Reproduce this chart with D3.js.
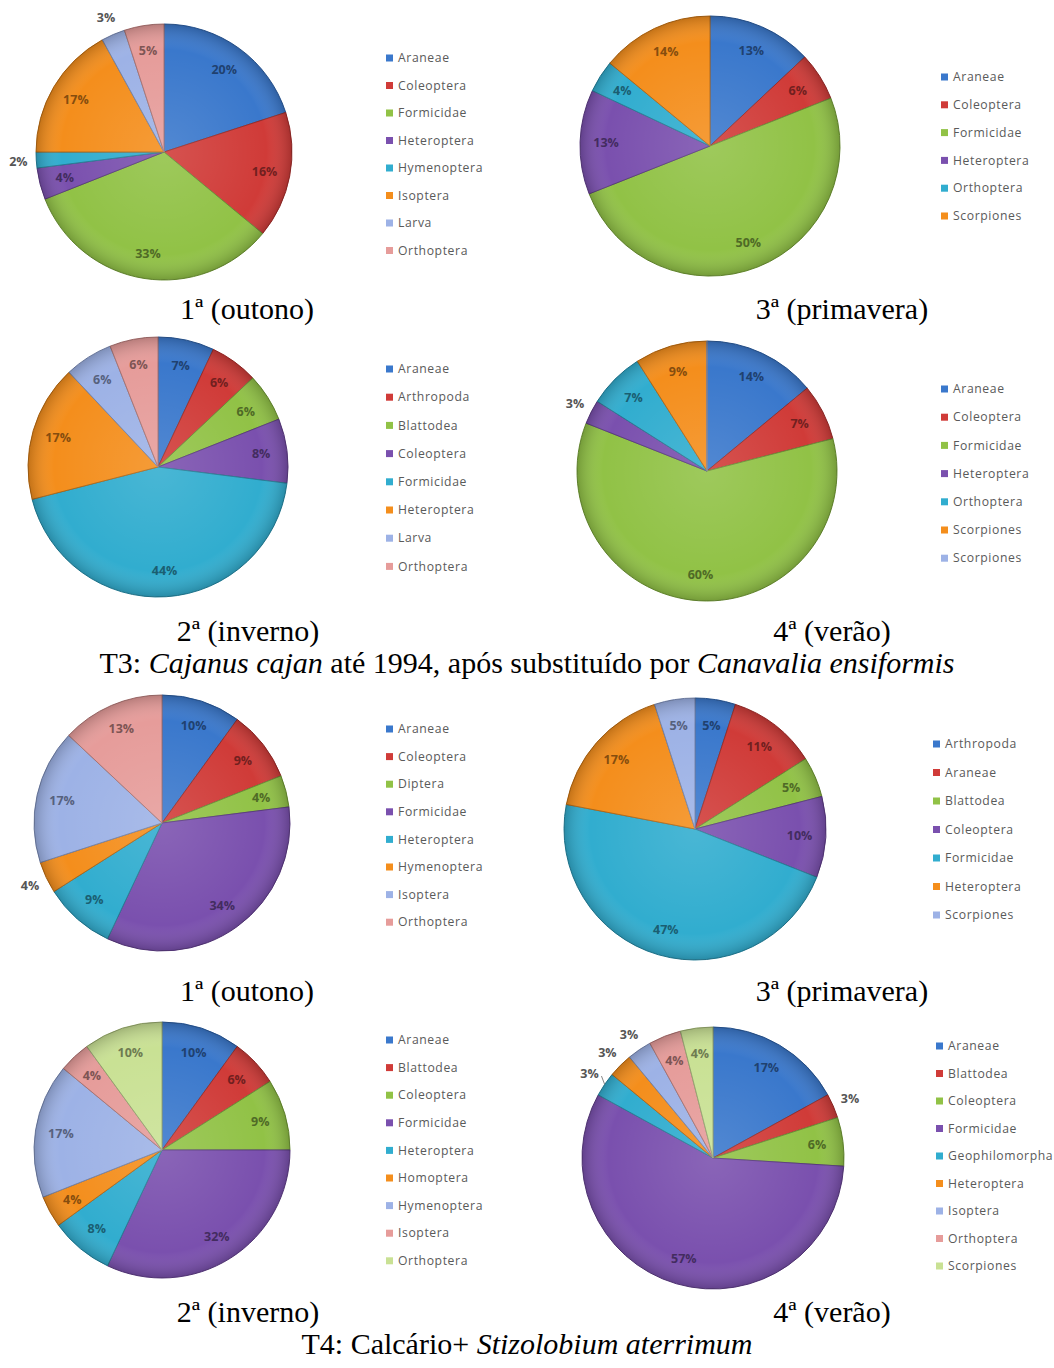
<!DOCTYPE html>
<html>
<head>
<meta charset="utf-8">
<title>Grupos de artrópodes por estação</title>
<script src="https://d3js.org/d3.v7.min.js"></script>
<style>
  body { margin: 0; background: #fff; }
  .legend text { font-family: "Open Sans", sans-serif; font-size: 12.2px; letter-spacing: 0.6px; fill: #5a5a5a; }
  .pct { font-family: "Open Sans", sans-serif; font-size: 12.5px; font-weight: bold; }
  .cap { font-family: "Liberation Serif", "Times New Roman", serif; font-size: 30px; fill: #000; }
</style>
</head>
<body>
<svg width="1054" height="1368"></svg>
<script>
// T3 - Cajanus cajan / Canavalia ensiformis
var catsT3a = ["Araneae", "Coleoptera", "Formicidae", "Heteroptera", "Hymenoptera", "Isoptera", "Larva", "Orthoptera"];
var valsT3a = [20, 16, 33, 4, 2, 17, 3, 5];
var catsT3c = ["Araneae", "Coleoptera", "Formicidae", "Heteroptera", "Orthoptera", "Scorpiones"];
var valsT3c = [13, 6, 50, 13, 4, 14];
var catsT3b = ["Araneae", "Arthropoda", "Blattodea", "Coleoptera", "Formicidae", "Heteroptera", "Larva", "Orthoptera"];
var valsT3b = [7, 6, 6, 8, 44, 17, 6, 6];
var catsT3d = ["Araneae", "Coleoptera", "Formicidae", "Heteroptera", "Orthoptera", "Scorpiones", "Scorpiones"];
var valsT3d = [14, 7, 60, 3, 7, 9, 0];

// T4 - Calcário + Stizolobium aterrimum
var catsT4a = ["Araneae", "Coleoptera", "Diptera", "Formicidae", "Heteroptera", "Hymenoptera", "Isoptera", "Orthoptera"];
var valsT4a = [10, 9, 4, 34, 9, 4, 17, 13];
var catsT4c = ["Arthropoda", "Araneae", "Blattodea", "Coleoptera", "Formicidae", "Heteroptera", "Scorpiones"];
var valsT4c = [5, 11, 5, 10, 47, 17, 5];
var catsT4b = ["Araneae", "Blattodea", "Coleoptera", "Formicidae", "Heteroptera", "Homoptera", "Hymenoptera", "Isoptera", "Orthoptera"];
var valsT4b = [10, 6, 9, 32, 8, 4, 17, 4, 10];
var catsT4d = ["Araneae", "Blattodea", "Coleoptera", "Formicidae", "Geophilomorpha", "Heteroptera", "Isoptera", "Orthoptera", "Scorpiones"];
var valsT4d = [17, 3, 6, 57, 3, 3, 3, 4, 4];

var seasons = ["1ª (outono)", "3ª (primavera)", "2ª (inverno)", "4ª (verão)"];

// excel-like palette, assigned by legend position
var palette = ["#3a78cc", "#d03b38", "#91c246", "#7a50ae", "#31adcf", "#f48e1c", "#9db2e6", "#e69c9a", "#c9e194"];

var svg = d3.select("svg");

var panels = [
  {cats: catsT3a, vals: valsT3a, cx: 164, cy: 152, r: 128, lx: 386, ly: 58, step: 27.5, out: [4, 6]},
  {cats: catsT3c, vals: valsT3c, cx: 710, cy: 146, r: 130, lx: 941, ly: 77, step: 27.8, out: []},
  {cats: catsT3b, vals: valsT3b, cx: 158, cy: 467, r: 130, lx: 386, ly: 369, step: 28.2, out: []},
  {cats: catsT3d, vals: valsT3d, cx: 707, cy: 471, r: 130, lx: 941, ly: 389, step: 28.2, out: [3]},
  {cats: catsT4a, vals: valsT4a, cx: 162, cy: 823, r: 128, lx: 386, ly: 729, step: 27.6, out: [5]},
  {cats: catsT4c, vals: valsT4c, cx: 695, cy: 829, r: 131, lx: 933, ly: 744, step: 28.5, out: []},
  {cats: catsT4b, vals: valsT4b, cx: 162, cy: 1150, r: 128, lx: 386, ly: 1040, step: 27.6, out: []},
  {cats: catsT4d, vals: valsT4d, cx: 713, cy: 1158, r: 131, lx: 936, ly: 1046, step: 27.5, out: [1, 4, 5, 6], lead: [4]}
];

var defs = svg.append("defs");
var rim = defs.append("radialGradient").attr("id", "rim");
rim.append("stop").attr("offset", "0%").attr("stop-color", "#fff").attr("stop-opacity", 0.12);
rim.append("stop").attr("offset", "80%").attr("stop-color", "#fff").attr("stop-opacity", 0);
rim.append("stop").attr("offset", "100%").attr("stop-color", "#000").attr("stop-opacity", 0.2);

var pie = d3.pie().sort(null).value(function(d) { return d; });

panels.forEach(function(p) {
  var g = svg.append("g").attr("transform", "translate(" + p.cx + "," + p.cy + ")");
  var arc = d3.arc().innerRadius(0).outerRadius(p.r);
  var arcs = pie(p.vals);

  g.selectAll("path.slice")
    .data(arcs)
    .enter().append("path")
      .attr("class", "slice")
      .attr("d", arc)
      .attr("fill", function(d, i) { return palette[i]; })
      .attr("stroke", function(d, i) { return d3.color(palette[i]).darker(0.9); })
      .attr("stroke-width", 1);

  g.append("circle").attr("r", p.r).attr("fill", "url(#rim)");

  var inArc = d3.arc().innerRadius(p.r * 0.8).outerRadius(p.r * 0.8);
  var outArc = d3.arc().innerRadius(p.r * 1.14).outerRadius(p.r * 1.14);

  arcs.forEach(function(d, i) {
    if (d.data <= 0) return;
    var isOut = p.out.indexOf(i) >= 0;
    var c = (isOut ? outArc : inArc).centroid(d);
    if (p.lead && p.lead.indexOf(i) >= 0) {
      var e = d3.arc().innerRadius(p.r * 1.0).outerRadius(p.r * 1.0).centroid(d);
      g.append("line")
        .attr("x1", c[0] + 12).attr("y1", c[1] + 2)
        .attr("x2", e[0]).attr("y2", e[1])
        .attr("stroke", "#666").attr("stroke-width", 0.8);
    }
    g.append("text")
      .attr("class", "pct")
      .attr("x", c[0]).attr("y", c[1])
      .attr("dy", "0.35em")
      .attr("text-anchor", "middle")
      .attr("fill", isOut ? "#555" : d3.color(palette[i]).darker(1.7))
      .text(d.data + "%");
  });

  var lg = svg.append("g").attr("class", "legend");
  var items = lg.selectAll("g")
    .data(p.cats)
    .enter().append("g")
      .attr("transform", function(d, i) { return "translate(" + p.lx + "," + (p.ly + i * p.step) + ")"; });
  items.append("rect")
    .attr("x", 0).attr("y", -3.5)
    .attr("width", 7).attr("height", 7)
    .attr("fill", function(d, i) { return palette[i]; });
  items.append("text")
    .attr("x", 12).attr("dy", "0.35em")
    .text(function(d) { return d; });
});

// captions
var capPos = [[247, 319], [842, 319], [248, 641], [832, 641], [247, 1001], [842, 1001], [248, 1322], [832, 1322]];
capPos.forEach(function(c, i) {
  svg.append("text").attr("class", "cap")
    .attr("x", c[0]).attr("y", c[1])
    .attr("text-anchor", "middle")
    .text(seasons[i % 4]);
});

function title(y, parts) {
  var t = svg.append("text").attr("class", "cap")
    .attr("x", 527).attr("y", y).attr("text-anchor", "middle");
  parts.forEach(function(s) {
    t.append("tspan").attr("font-style", s[1] ? "italic" : "normal").text(s[0]);
  });
}
title(673, [["T3: ", 0], ["Cajanus cajan", 1], [" até 1994, após substituído por ", 0], ["Canavalia ensiformis", 1]]);
title(1354, [["T4: Calcário+ ", 0], ["Stizolobium aterrimum", 1]]);
</script>
</body>
</html>
